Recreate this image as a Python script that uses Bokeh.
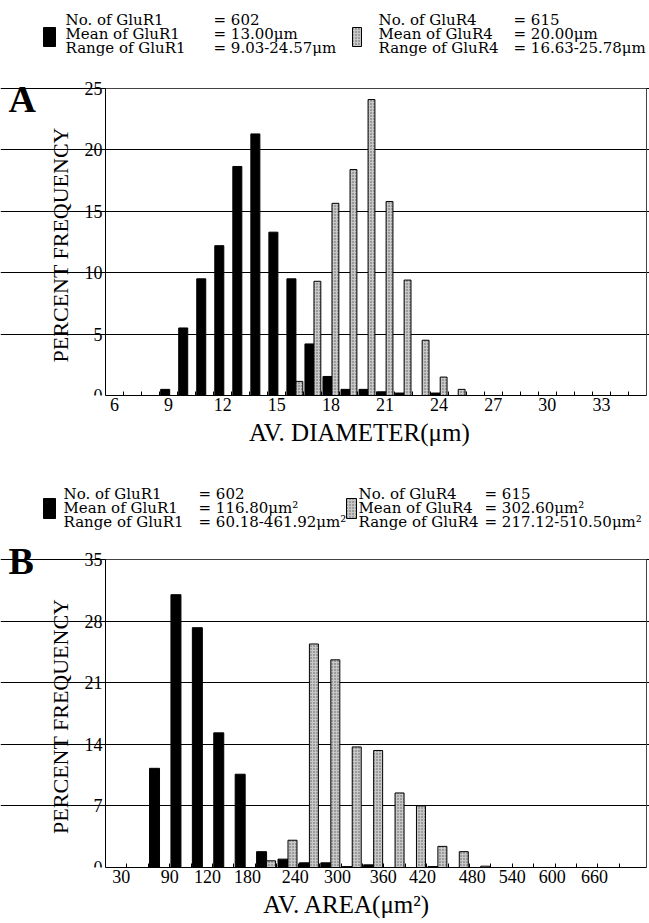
from bokeh.plotting import figure
from bokeh.models import Range1d, FixedTicker, Label, BoxAnnotation
from bokeh.layouts import column
from bokeh.embed import file_html
from bokeh.resources import INLINE

# ---------------- data ----------------
# Panel A: average diameter (um), 1-um bins 6..35
diam_bins = list(range(6, 36))
glur1_diam = [0, 0, 0, 0.5, 5.5, 9.5, 12.2, 18.65, 21.3, 13.3, 9.5, 4.2, 1.55, 0.5, 0.5,
              0.3, 0.2, 0, 0.2, 0, 0, 0, 0, 0, 0, 0, 0, 0, 0, 0]
glur4_diam = [0, 0, 0, 0, 0, 0, 0, 0, 0, 0, 1.15, 9.3, 15.65, 18.4, 24.1,
              15.8, 9.4, 4.5, 1.5, 0.5, 0, 0, 0, 0, 0, 0, 0, 0, 0, 0]
diam_tick_values = [6, 9, 12, 15, 18, 21, 24, 27, 30, 33]
diam_y_ticks = [0, 5, 10, 15, 20, 25]

# Panel B: average area (um^2), 30-um^2 bins (lower edges)
area_bins = list(range(0, 750, 30))
glur1_area = [0, 0, 11.27, 31.0, 27.25, 15.3, 10.6, 1.8, 0.95, 0.53, 0.53, 0.1, 0.3,
              0, 0, 0.1, 0, 0, 0, 0, 0, 0, 0, 0, 0]
glur4_area = [0, 0, 0, 0, 0, 0, 0, 0.76, 3.1, 25.4, 23.6, 13.7, 13.3,
              8.47, 7.0, 2.4, 1.8, 0.15, 0, 0, 0, 0, 0, 0, 0]
area_tick_pos = [22, 90, 143, 199, 266, 325, 389, 444, 514, 570, 626, 685]
area_tick_text = ["30", "90", "120", "180", "240", "300", "360", "420", "480", "540", "600", "660"]
area_y_ticks = [0, 7, 14, 21, 28, 35]

# legend texts
legA_left_names = ["No. of GluR1", "Mean of GluR1", "Range of GluR1"]
legA_left_vals = ["= 602", "= 13.00\u03bcm", "= 9.03-24.57\u03bcm"]
legA_right_names = ["No. of GluR4", "Mean of GluR4", "Range of GluR4"]
legA_right_vals = ["= 615", "= 20.00\u03bcm", "= 16.63-25.78\u03bcm"]
legB_left_names = ["No. of GluR1", "Mean of GluR1", "Range of GluR1"]
legB_left_vals = ["= 602", "= 116.80\u03bcm\u00b2", "= 60.18-461.92\u03bcm\u00b2"]
legB_right_names = ["No. of GluR4", "Mean of GluR4", "Range of GluR4"]
legB_right_vals = ["= 615", "= 302.60\u03bcm\u00b2", "= 217.12-510.50\u03bcm\u00b2"]

SERIF = "Liberation Serif"
LEGF = "DejaVu Serif"
GRAY = "#c8c8c8"
W = 649
GRAY_HATCH = dict(hatch_pattern="dot", hatch_color="#5a5a5a", hatch_scale=3, hatch_weight=1)
NBSP = "\u00a0"

# plot box in page pixels: left 105, right 646
BOX_L, BOX_R = 105, 646


def make_panel(height, bottom_border, box_top, xlo, xhi, ytop):
    """Figure whose frame spans the whole width and everything above the x axis.
    The drawn plot box [xlo, xhi] x [0, ytop] sits at page x 105..646."""
    frame_h = height - bottom_border
    sx = (BOX_R - BOX_L) / (xhi - xlo)
    x0 = xlo - BOX_L / sx
    x1 = xhi + (W - BOX_R) / sx
    sy = (frame_h - box_top) / ytop
    y1 = frame_h / sy
    p = figure(width=W, height=height, x_range=Range1d(x0, x1), y_range=Range1d(0, y1),
               output_backend="svg", toolbar_location=None, title=None,
               min_border_left=0, min_border_right=0, min_border_top=0,
               min_border_bottom=bottom_border)
    p.outline_line_color = None
    return p


def style_axes(p, xlabel, ylabel, xlo, xhi, ytop):
    p.xaxis.axis_label = xlabel
    p.yaxis.axis_label = ylabel
    p.yaxis.fixed_location = xlo
    p.yaxis.bounds = (0, ytop)
    p.xaxis.bounds = (xlo, xhi)
    for ax in (p.xaxis[0], p.yaxis[0]):
        ax.axis_label_text_font = SERIF
        ax.axis_label_text_font_style = "normal"
        ax.axis_label_text_color = "black"
        ax.major_label_text_font = SERIF
        ax.major_label_text_font_size = "18px"
        ax.major_label_text_color = "black"
        ax.axis_line_color = "black"
        ax.major_tick_in = 0
        ax.major_tick_out = 0
        ax.minor_tick_in = 4
        ax.minor_tick_out = 0
        ax.minor_tick_line_color = "black"
    p.xaxis.axis_label_text_font_size = "25px"
    p.yaxis.axis_label_text_font_size = "22px"
    p.xaxis.major_label_standoff = 2
    p.xaxis.axis_label_standoff = 5
    p.yaxis.major_label_standoff = 3
    p.yaxis.axis_label_standoff = 9
    p.xgrid.visible = False
    p.ygrid.grid_line_color = "black"
    p.ygrid.grid_line_width = 1
    p.ygrid.bounds = (xlo, xhi)
    # outline of the plot box (top and right edges)
    p.add_layout(BoxAnnotation(left=xlo, right=xhi, bottom=0, top=ytop,
                               fill_color="white", fill_alpha=0,
                               line_color="#444444", line_alpha=1, line_width=1,
                               level="underlay"))


def add_legend(p, frame_bottom, rows, cols, names_l, vals_l, names_r, vals_r,
               sw_top, sw_bot, lsw, rsw):
    groups = [names_l, vals_l, names_r, vals_r]
    for cx, texts in zip(cols, groups):
        for ry, t in zip(rows, texts):
            p.add_layout(Label(x=cx, y=frame_bottom - ry, x_units="screen", y_units="screen",
                               text=t, text_font=LEGF, text_font_size="15px",
                               text_baseline="alphabetic", text_align="left",
                               text_color="black"))
    box = dict(left_units="screen", right_units="screen", top_units="screen",
               bottom_units="screen", line_color="black", line_alpha=1, line_width=1,
               fill_alpha=1, top=frame_bottom - sw_top, bottom=frame_bottom - sw_bot)
    p.add_layout(BoxAnnotation(left=lsw[0], right=lsw[1], fill_color="black", **box))
    p.add_layout(BoxAnnotation(left=rsw[0], right=rsw[1], fill_color=GRAY, **box, **GRAY_HATCH))


def panel_letter(p, letter, y):
    p.add_layout(Label(x=8, y=y, x_units="screen", y_units="screen", text=letter,
                       text_font=SERIF, text_font_size="38px", text_font_style="bold",
                       text_color="black", text_baseline="middle", text_align="left"))


# ---------------- Panel A: page 0..455, frame 0..395, box top at 88 ----------------
pA = make_panel(455, 60, 88, 5.5, 35.5, 25)
bA1 = [(b, v) for b, v in zip(diam_bins, glur1_diam) if v > 0]
bA4 = [(b, v) for b, v in zip(diam_bins, glur4_diam) if v > 0]
pA.vbar(x=[b - 0.19 for b, v in bA1], top=[v for b, v in bA1], width=0.5, bottom=0,
        fill_color="black", line_color="black")
pA.vbar(x=[b + 0.25 for b, v in bA4], top=[v for b, v in bA4], width=0.38, bottom=0,
        fill_color=GRAY, line_color="black", **GRAY_HATCH)
style_axes(pA, NBSP * 11 + "AV. DIAMETER(\u03bcm)", "PERCENT  FREQUENCY", 5.5, 35.5, 25)
pA.xaxis.ticker = FixedTicker(ticks=diam_tick_values,
                              minor_ticks=[b + 0.5 for b in diam_bins[:-1]])
pA.yaxis.ticker = FixedTicker(ticks=diam_y_ticks)
panel_letter(pA, "A", 395 - 98)
add_legend(pA, 395, [19, 33, 47], [65, 213, 378, 513],
           legA_left_names, legA_left_vals, legA_right_names, legA_right_vals,
           27, 46, (43, 55), (352, 361))

# ---------------- Panel B: page 455..923, frame 455..867, box top at 559 ----------------
pB = make_panel(468, 56, 104, 0, 758, 35)
bB1 = [(b, v) for b, v in zip(area_bins, glur1_area) if v > 0]
bB4 = [(b, v) for b, v in zip(area_bins, glur4_area) if v > 0]
pB.vbar(x=[b + 8.7 for b, v in bB1], top=[v for b, v in bB1], width=14, bottom=0,
        fill_color="black", line_color="black")
pB.vbar(x=[b + 22 for b, v in bB4], top=[v for b, v in bB4], width=12.6, bottom=0,
        fill_color=GRAY, line_color="black", **GRAY_HATCH)
style_axes(pB, NBSP * 7 + "AV. AREA(\u03bcm\u00b2)", "PERCENT  FREQUENCY", 0, 758, 35)
pB.xaxis.ticker = FixedTicker(ticks=area_tick_pos, minor_ticks=area_bins[1:])
pB.xaxis.major_label_overrides = {p: t for p, t in zip(area_tick_pos, area_tick_text)}
pB.yaxis.ticker = FixedTicker(ticks=area_y_ticks)
# frame bottom at page 867 -> local 412
panel_letter(pB, "B", 412 - (560 - 455))
add_legend(pB, 412, [493 - 455, 507 - 455, 521 - 455], [63, 198, 358, 484],
           legB_left_names, legB_left_vals, legB_right_names, legB_right_vals,
           498 - 455, 518 - 455, (43, 55), (346, 356))

layout = column(pA, pB, spacing=0)
open("out.html", "w").write(file_html(layout, INLINE))
